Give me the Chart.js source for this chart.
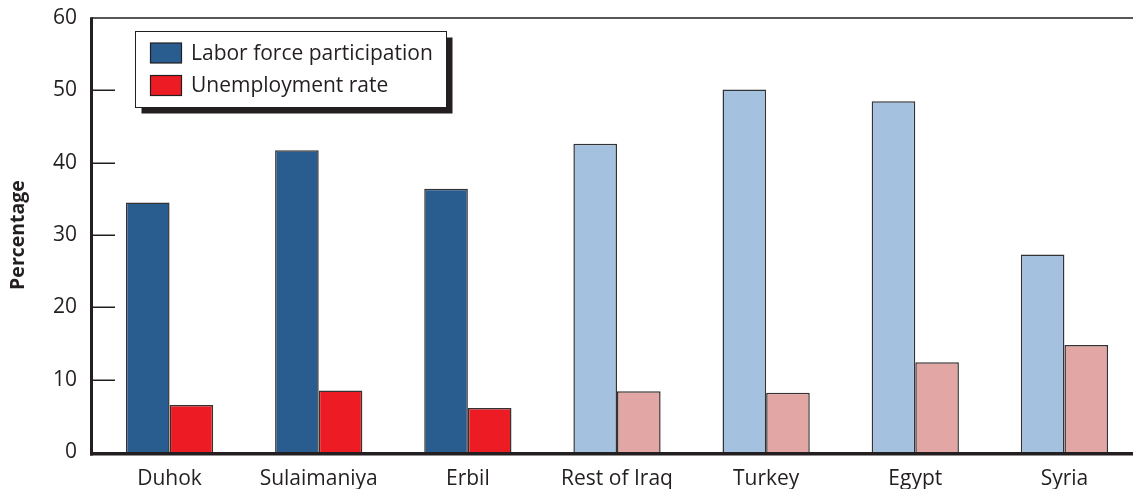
<!DOCTYPE html>
<html>
<head>
<meta charset="utf-8">
<script src="https://cdn.jsdelivr.net/npm/chart.js@4"></script>
<style>
  html, body { margin: 0; padding: 0; background: #ffffff; overflow: hidden; }
  #wrap { width: 1139px; height: 489px; }
</style>
</head>
<body>
<div id="wrap"><canvas id="chart" width="1139" height="489"></canvas></div>
<script>
// Regions and comparison countries
const categories = ['Duhok', 'Sulaimaniya', 'Erbil', 'Rest of Iraq', 'Turkey', 'Egypt', 'Syria'];
// Percentages
const laborForce = [34.5, 41.7, 36.4, 42.6, 50.1, 48.5, 27.3];
const unemployment = [6.5, 8.5, 6.1, 8.4, 8.2, 12.4, 14.8];
const seriesNames = ['Labor force participation', 'Unemployment rate'];
const yTicks = [0, 10, 20, 30, 40, 50, 60];

// Kurdistan regions in saturated colours, the rest in pale tints
const kurdistanCount = 3;
const laborColors = categories.map((c, i) => i < kurdistanCount ? '#2a5d8f' : '#a4c1df');
const unempColors = categories.map((c, i) => i < kurdistanCount ? '#ed1c24' : '#e2a7a4');

const INK = '#231f20';
const FONT = '"Open Sans", "Noto Sans", sans-serif';

// Frame, inward tick marks and a boxed legend with a drop shadow
const framePlugin = {
  id: 'frame',
  afterDatasetsDraw(chart) {
    const { ctx } = chart;
    const y = chart.scales.y;
    const axisX = 91.5;
    const right = chart.width;
    ctx.save();
    ctx.strokeStyle = INK;
    // top line at the maximum
    ctx.lineWidth = 1.5;
    ctx.beginPath();
    ctx.moveTo(axisX, y.getPixelForValue(60));
    ctx.lineTo(right, y.getPixelForValue(60));
    ctx.stroke();
    // tick marks
    yTicks.forEach(v => {
      if (v === 0 || v === 60) return;
      const py = Math.round(y.getPixelForValue(v)) + 0.25;
      ctx.beginPath();
      ctx.moveTo(axisX, py);
      ctx.lineTo(115, py);
      ctx.stroke();
    });
    // left axis
    ctx.lineWidth = 3;
    ctx.beginPath();
    ctx.moveTo(axisX, y.getPixelForValue(60) - 0.75);
    ctx.lineTo(axisX, y.getPixelForValue(0) + 3.5);
    ctx.stroke();
    // baseline
    ctx.lineWidth = 3.5;
    const by = y.getPixelForValue(0) + 1.75;
    ctx.beginPath();
    ctx.moveTo(axisX - 1.5, by);
    ctx.lineTo(right, by);
    ctx.stroke();

    // legend
    const lx = 135.5, ly = 31.5, lw = 311, lh = 76, sh = 6;
    ctx.fillStyle = INK;
    ctx.fillRect(lx + sh, ly + sh, lw, lh);
    ctx.fillStyle = '#ffffff';
    ctx.fillRect(lx, ly, lw, lh);
    ctx.lineWidth = 1;
    ctx.strokeStyle = INK;
    ctx.strokeRect(lx, ly, lw, lh);
    const swatches = [laborColors[0], unempColors[0]];
    ctx.font = '21px ' + FONT;
    ctx.textBaseline = 'middle';
    seriesNames.forEach((name, i) => {
      const sy = 43 + i * 32.5;
      ctx.fillStyle = swatches[i];
      ctx.fillRect(150.5, sy, 31, 20);
      ctx.strokeStyle = INK;
      ctx.lineWidth = 1.2;
      ctx.strokeRect(150.5, sy, 31, 20);
      ctx.fillStyle = INK;
      ctx.fillText(name, 191, sy + 11);
    });
    ctx.restore();
  }
};

new Chart(document.getElementById('chart'), {
  type: 'bar',
  data: {
    labels: categories,
    datasets: [
      { label: seriesNames[0], data: laborForce, backgroundColor: laborColors,
        borderColor: '#333333', borderWidth: 1.5 },
      { label: seriesNames[1], data: unemployment, backgroundColor: unempColors,
        borderColor: '#333333', borderWidth: 1.5 }
    ]
  },
  options: {
    responsive: false,
    devicePixelRatio: 1,
    animation: false,
    layout: { padding: { top: 18, right: 0, left: 0, bottom: 0 } },
    datasets: { bar: { categoryPercentage: 0.585, barPercentage: 1.0 } },
    plugins: { legend: { display: false }, tooltip: { enabled: false } },
    scales: {
      x: {
        grid: { display: false, drawTicks: false },
        border: { display: false },
        ticks: { color: INK, font: { family: FONT, size: 21 }, padding: 14, maxRotation: 0, autoSkip: false },
        afterFit(scale) { scale.height = 37; scale.paddingLeft = 0; scale.paddingRight = 0; }
      },
      y: {
        min: 0, max: 60,
        afterBuildTicks(scale) { scale.ticks = yTicks.map(v => ({ value: v })); },
        grid: { display: false, drawTicks: false },
        border: { display: false },
        ticks: { color: INK, font: { family: FONT, size: 21 }, padding: 18 },
        title: { display: true, text: 'Percentage', color: INK,
                 font: { family: FONT, size: 19.5, weight: 'bold' }, padding: { top: 7, bottom: 0 } },
        afterFit(scale) { scale.width = 95; scale.paddingTop = 0; scale.paddingBottom = 0; }
      }
    }
  },
  plugins: [framePlugin]
});
</script>
</body>
</html>
